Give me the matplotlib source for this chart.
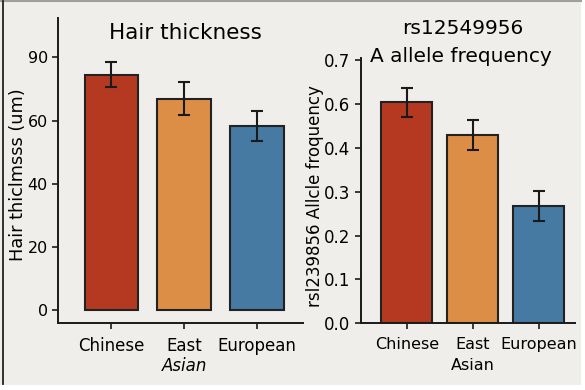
import matplotlib
matplotlib.use("Agg")
import matplotlib.pyplot as plt
from matplotlib.patches import Rectangle
from matplotlib.lines import Line2D

# ---- data ----
groups = ["Chinese", "East", "European"]
colors = ["#b53921", "#dd8e46", "#467aa3"]

hair_values = [74.6, 67.0, 58.2]
hair_errors = [3.9, 5.1, 4.8]
hair_ticks = [0, 20, 40, 60, 80]
hair_tick_labels = ["0", "20", "40", "60", "90"]

freq_values = [0.505, 0.430, 0.268]
freq_errors = [0.033, 0.035, 0.035]
freq_ticks = [0.0, 0.1, 0.2, 0.3, 0.4, 0.5, 0.6]
freq_tick_labels = ["0.0", "0.1", "0.2", "0.3", "0.4", "0.6", "0.7"]

W, H = 585, 390
fig = plt.figure(figsize=(W / 100, H / 100), dpi=100, facecolor="white")

def px(x0, y0, x1, y1):
    # pixel box (top-left origin) -> figure fraction rect
    return [x0 / W, 1 - y1 / H, (x1 - x0) / W, (y1 - y0) / H]

bg = "#efeeea"
fig.patches.append(Rectangle((0, 1 - 385 / H), 581 / W, 385 / H,
                             transform=fig.transFigure, facecolor=bg,
                             edgecolor="none", zorder=-10))
fig.lines.append(Line2D([0, 581 / W], [1 - 0.8 / H, 1 - 0.8 / H],
                        transform=fig.transFigure, color="#a0a0a0", lw=1.5))
fig.lines.append(Line2D([2.5 / W, 2.5 / W], [1 - 1 / H, 1 - 384 / H],
                        transform=fig.transFigure, color="#222222", lw=1.3))

ax1 = fig.add_axes(px(58.3, 18, 303, 323.3))
ax2 = fig.add_axes(px(360.7, 58.3, 575, 323.3))

x = list(range(len(groups)))
edge = "#222222"

for ax in (ax1, ax2):
    ax.set_facecolor("none")
    for s in ("top", "right"):
        ax.spines[s].set_visible(False)
    for s in ("left", "bottom"):
        ax.spines[s].set_linewidth(1.4)
        ax.spines[s].set_color("#1a1a1a")
    ax.tick_params(axis="both", direction="out", length=4, width=1.2,
                   color="#1a1a1a")

# left panel
ax1.bar(x, hair_values, width=0.74, color=colors, edgecolor=edge, linewidth=1.5, zorder=2)
ax1.errorbar(x, hair_values, yerr=hair_errors, fmt="none", ecolor="#1a1a1a",
             elinewidth=1.5, capsize=4.5, capthick=1.5, zorder=3)
ax1.set_xlim(-0.73, 2.63)
ax1.set_ylim(-4.2, 92.5)
ax1.set_yticks(hair_ticks)
ax1.set_yticklabels(hair_tick_labels, fontsize=11.5)
ax1.set_xticks(x)
ax1.set_xticklabels(groups, fontsize=12)
ax1.tick_params(axis="x", pad=6)
ax1.text(1, -0.14, "Asian", transform=ax1.get_xaxis_transform(),
         ha="center", va="center", fontsize=12, style="italic")

# right panel
ax2.bar(x, freq_values, width=0.77, color=colors, edgecolor=edge, linewidth=1.5, zorder=2)
ax2.errorbar(x, freq_values, yerr=freq_errors, fmt="none", ecolor="#1a1a1a",
             elinewidth=1.5, capsize=4.5, capthick=1.5, zorder=3)
ax2.set_xlim(-0.70, 2.55)
ax2.set_ylim(0, 0.605)
ax2.set_yticks(freq_ticks)
ax2.set_yticklabels(freq_tick_labels, fontsize=12)
ax2.set_xticks(x)
ax2.set_xticklabels(["Chinese", "East\nAsian", "European"], fontsize=11.5,
                    linespacing=1.5, va="top")
ax2.tick_params(axis="x", pad=6)

# titles and axis labels
fig.text(185.7 / W, 1 - 33 / H, "Hair thickness", ha="center", va="center", fontsize=15.5)
fig.text(463 / W, 1 - 28 / H, "rs12549956", ha="center", va="center", fontsize=14.5)
fig.text(461 / W, 1 - 57 / H, "A allele frequency", ha="center", va="center", fontsize=14.5)
fig.text(18 / W, 1 - 175 / H, "Hair thiclmsss (um)", rotation=90, ha="center",
         va="center", fontsize=12.8)
fig.text(315 / W, 1 - 196 / H, "rsl239856 Allcle froquency", rotation=90, ha="center",
         va="center", fontsize=12)

fig.savefig("out.png", dpi=100, facecolor="white")
